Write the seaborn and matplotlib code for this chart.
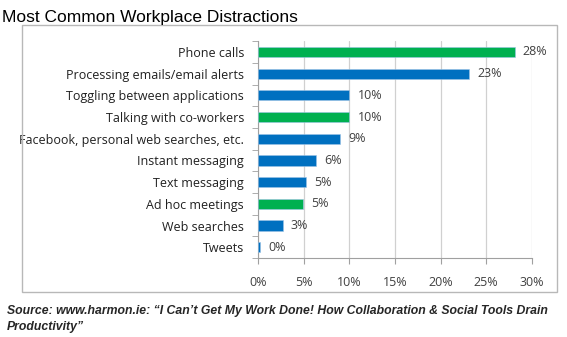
import matplotlib
matplotlib.use("Agg")
import matplotlib.pyplot as plt
import seaborn as sns
import pandas as pd
import numpy as np
from matplotlib.patches import Rectangle

categories = ["Phone calls", "Processing emails/email alerts", "Toggling between applications",
              "Talking with co-workers", "Facebook, personal web searches, etc.", "Instant messaging",
              "Text messaging", "Ad hoc meetings", "Web searches", "Tweets"]
values = [28.1, 23.1, 10.0, 10.0, 9.0, 6.4, 5.3, 4.9, 2.7, 0.2]
labels = ["28%", "23%", "10%", "10%", "9%", "6%", "5%", "5%", "3%", "0%"]
groups = ["green", "blue", "blue", "green", "blue", "blue", "blue", "green", "blue", "blue"]
xticks = [0, 5, 10, 15, 20, 25, 30]

sns.set_style("white")
plt.rcParams['font.family'] = ['Liberation Sans', 'DejaVu Sans']

df = pd.DataFrame({"cat": categories, "val": values, "grp": groups})
palette = {"green": "#00B050", "blue": "#0070C0"}

fig = plt.figure(figsize=(5.67, 3.37), dpi=100)
ax = fig.add_axes([0.455, 0.234, 0.483, 0.644])

fig.patches.append(Rectangle((0.039, 0.134), 0.944, 0.791, transform=fig.transFigure,
                             fill=False, edgecolor="#b8b8b8", linewidth=1.0))

sns.barplot(data=df, x="val", y="cat", hue="grp", palette=palette, dodge=False, saturation=1,
            width=0.47, ax=ax, legend=False, edgecolor="#9dc3e6", linewidth=0.4, zorder=3)

ax.set_xlim(0, 30)
ax.set_ylim(9.5, -0.5)
ax.set_xticks(xticks)
ax.set_xticklabels([f"{t}%" for t in xticks], fontsize=9, color="#404040", family=["Open Sans", "DejaVu Sans"])
ax.tick_params(axis="x", pad=9, length=4, color="#a0a0a0", direction="out", bottom=True)
ax.tick_params(axis="y", length=0, pad=10)
ax.set_yticks(range(len(categories)))
ax.set_yticklabels(categories, fontsize=9, color="#202020", family=["Open Sans", "DejaVu Sans"])
ax.set_yticks(np.arange(-0.5, 10, 1), minor=True)
ax.tick_params(axis="y", which="minor", length=4, color="#a0a0a0", left=True)
ax.grid(axis="x", color="#d0d0d0", linewidth=0.9, zorder=0)
ax.set_axisbelow(True)
ax.set_xlabel("")
ax.set_ylabel("")
for s in ["top", "right"]:
    ax.spines[s].set_visible(False)
for s in ["left", "bottom"]:
    ax.spines[s].set_color("#a0a0a0")
    ax.spines[s].set_linewidth(0.8)

for i, (v, l) in enumerate(zip(values, labels)):
    ax.text(v + 0.9, i, l, va="center", ha="left", fontsize=9, color="#404040",
            family=["Open Sans", "DejaVu Sans"])

fig.text(0.004, 0.948, "Most Common Workplace Distractions", fontsize=12.5, color="black", va="center")
fig.text(0.012, 0.077, "Source: www.harmon.ie: \u201cI Can\u2019t Get My Work Done! How Collaboration & Social Tools Drain",
         fontsize=8.8, fontweight="bold", fontstyle="italic", va="center")
fig.text(0.012, 0.030, "Productivity\u201d", fontsize=8.8, fontweight="bold", fontstyle="italic", va="center")

fig.savefig("out.png", dpi=100)
